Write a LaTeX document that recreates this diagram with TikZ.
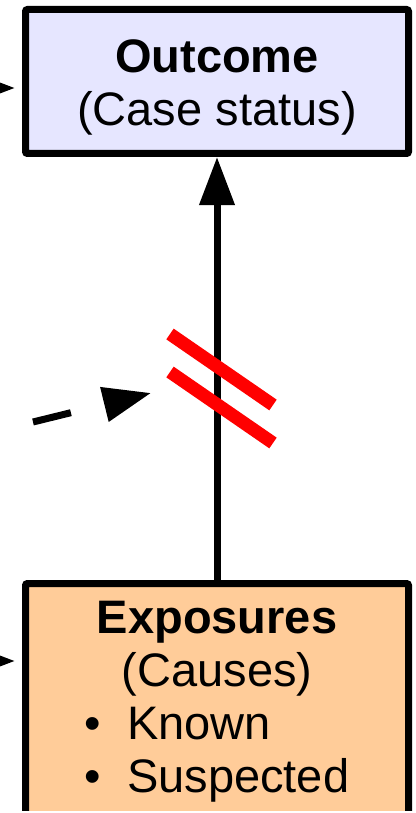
\documentclass[tikz,border=0pt]{standalone}
\usepackage{fontspec}
\setmainfont{Liberation Sans}
\usetikzlibrary{arrows.meta}
\tikzset{
    >={Triangle[length=48pt,width=34pt]}
}
\definecolor{outcomefill}{RGB}{230,230,255}
\definecolor{exposurefill}{RGB}{255,204,153}

\begin{document}
\begin{tikzpicture}[x=1pt,y=-1pt,
                    box/.style={draw,line width=7pt,rounded corners=2pt,minimum width=383pt,
                                align=center,font=\fontsize{47}{53}\selectfont},
                    link/.style={->,line width=7pt},
                    hidden/.style={link,dash pattern=on 39pt off 60pt},
                    cutmark/.style={draw=red,line width=13pt}]
\useasboundingbox (0,0) rectangle (415,813);
\clip (0,0) rectangle (415,810);

% Boxes
\node[box,fill=outcomefill,minimum height=144pt] (out) at (217,81.5)
    {\rule{0pt}{45pt}\textbf{Outcome}\\(Case status)};
\node[box,fill=exposurefill,anchor=north,inner ysep=18pt] (exp) at (217,580)
    {\textbf{Exposures}\\(Causes)\\
     \begin{tabular}[t]{@{}l@{}}\textbullet\hspace{0.55em}Known\\\textbullet\hspace{0.55em}Suspected\end{tabular}};

% Free ends
\coordinate (outsrc) at (-60,88);
\coordinate (expsrc) at (-60,661);
\coordinate (hidsrc) at (33,422);
\coordinate (hidtip) at (151,393);

% Arrows
\draw[link,shorten >=7pt] (outsrc) -- (outsrc -| out.west);
\draw[link,shorten >=7pt] (expsrc) -- (expsrc -| exp.west);
\draw[link] (exp.north) -- (out.south);
\draw[hidden] (hidsrc) -- (hidtip);

% Cut marks
\draw[cutmark] (170,334) -- (273,405);
\draw[cutmark] (170,372) -- (273,443);

\end{tikzpicture}
\end{document}
